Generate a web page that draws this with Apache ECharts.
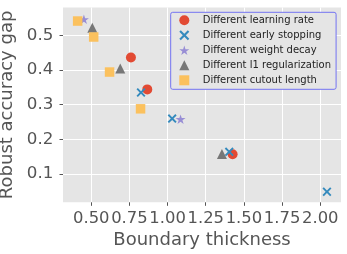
<!DOCTYPE html>
<html>
<head>
<meta charset="utf-8">
<script src="https://cdn.jsdelivr.net/npm/echarts@6/dist/echarts.min.js"></script>
<style>
html,body{margin:0;padding:0;background:#fff;}
#chart{width:347px;height:254px;}
</style>
</head>
<body>
<div id="chart"></div>
<script>
// Data
const seriesNames = [
  "Different learning rate",
  "Different early stopping",
  "Different weight decay",
  "Different l1 regularization",
  "Different cutout length"
];
const learningRate = [[0.760, 0.436], [0.867, 0.344], [1.426, 0.157]];
const earlyStopping = [[0.826, 0.335], [1.030, 0.260], [1.404, 0.164], [2.044, 0.049]];
const weightDecay = [[0.452, 0.546], [1.085, 0.258]];
const l1Reg = [[0.507, 0.522], [0.690, 0.404], [1.356, 0.158]];
const cutoutLength = [[0.411, 0.541], [0.516, 0.495], [0.620, 0.394], [0.823, 0.288]];
const xTicks = [0.5, 0.75, 1.0, 1.25, 1.5, 1.75, 2.0];
const yTicks = [0.1, 0.2, 0.3, 0.4, 0.5];
const xLabel = "Boundary thickness";
const yLabel = "Robust accuracy gap";

const crossPath = 'path://M1.5,0 L5,3.5 L8.5,0 L10,1.5 L6.5,5 L10,8.5 L8.5,10 L5,6.5 L1.5,10 L0,8.5 L3.5,5 L0,1.5 Z';
const starPath = 'path://M50,0 L61.2,34.5 L97.6,34.5 L68.2,55.9 L79.4,90.5 L50,69.1 L20.6,90.5 L31.8,55.9 L2.4,34.5 L38.8,34.5 Z';

const styles = [
  {data: learningRate, symbol: 'circle', size: 10, color: '#E24A33'},
  {data: earlyStopping, symbol: crossPath, size: 9, color: '#348ABD'},
  {data: weightDecay, symbol: starPath, size: [10, 9.5], color: '#988ED5'},
  {data: l1Reg, symbol: 'triangle', size: 10, color: '#777777'},
  {data: cutoutLength, symbol: 'rect', size: 9.5, color: '#FBC15E'}
];

const chart = echarts.init(document.getElementById('chart'), null, {renderer: 'canvas'});
const font = 'DejaVu Sans';
chart.setOption({
  animation: false,
  backgroundColor: '#ffffff',
  textStyle: {fontFamily: font},
  grid: {left: 63, right: 6, top: 7.5, bottom: 51.7, show: true, backgroundColor: '#E5E5E5', borderWidth: 0,
    containLabel: false, outerBoundsMode: 'none'},
  legend: {
    orient: 'vertical',
    left: 170.7,
    top: 12.3,
    padding: [3, 5, 4, 8.6],
    itemGap: 5,
    itemWidth: 10,
    itemHeight: 10,
    backgroundColor: '#E5E5E5',
    borderColor: '#7373F2',
    borderWidth: 1,
    borderRadius: 2,
    textStyle: {fontFamily: font, fontSize: 10, color: '#222222', lineHeight: 10, padding: [0, 0, 0, 8.4]},
    data: seriesNames
  },
  xAxis: {
    type: 'value',
    min: 0.315,
    max: 2.136,
    name: xLabel,
    nameLocation: 'middle',
    nameGap: 22,
    nameTextStyle: {fontFamily: font, fontSize: 18, color: '#555555'},
    axisLine: {show: false},
    axisTick: {show: true, length: 3.5, lineStyle: {color: '#555555', width: 1}, customValues: xTicks},
    axisLabel: {fontFamily: font, fontSize: 16.4, color: '#555555', margin: 8.5, customValues: xTicks,
      interval: 0, hideOverlap: false, formatter: v => v.toFixed(2)},
    splitLine: {show: true, lineStyle: {color: '#ffffff', width: 1}}
  },
  yAxis: {
    type: 'value',
    min: 0.0186,
    max: 0.58,
    name: yLabel,
    nameLocation: 'middle',
    nameGap: 36,
    nameTextStyle: {fontFamily: font, fontSize: 18, color: '#555555'},
    axisLine: {show: false},
    axisTick: {show: true, length: 3.5, lineStyle: {color: '#555555', width: 1}, customValues: yTicks},
    axisLabel: {fontFamily: font, fontSize: 16.7, color: '#555555', margin: 9.7, customValues: yTicks,
      interval: 0, formatter: v => v.toFixed(1)},
    splitLine: {show: true, lineStyle: {color: '#ffffff', width: 1}}
  },
  series: styles.map((s, i) => ({
    name: seriesNames[i],
    type: 'scatter',
    data: s.data,
    symbol: s.symbol,
    symbolSize: s.size,
    itemStyle: {color: s.color, opacity: 1},
    z: 2 + i
  }))
});
</script>
</body>
</html>
